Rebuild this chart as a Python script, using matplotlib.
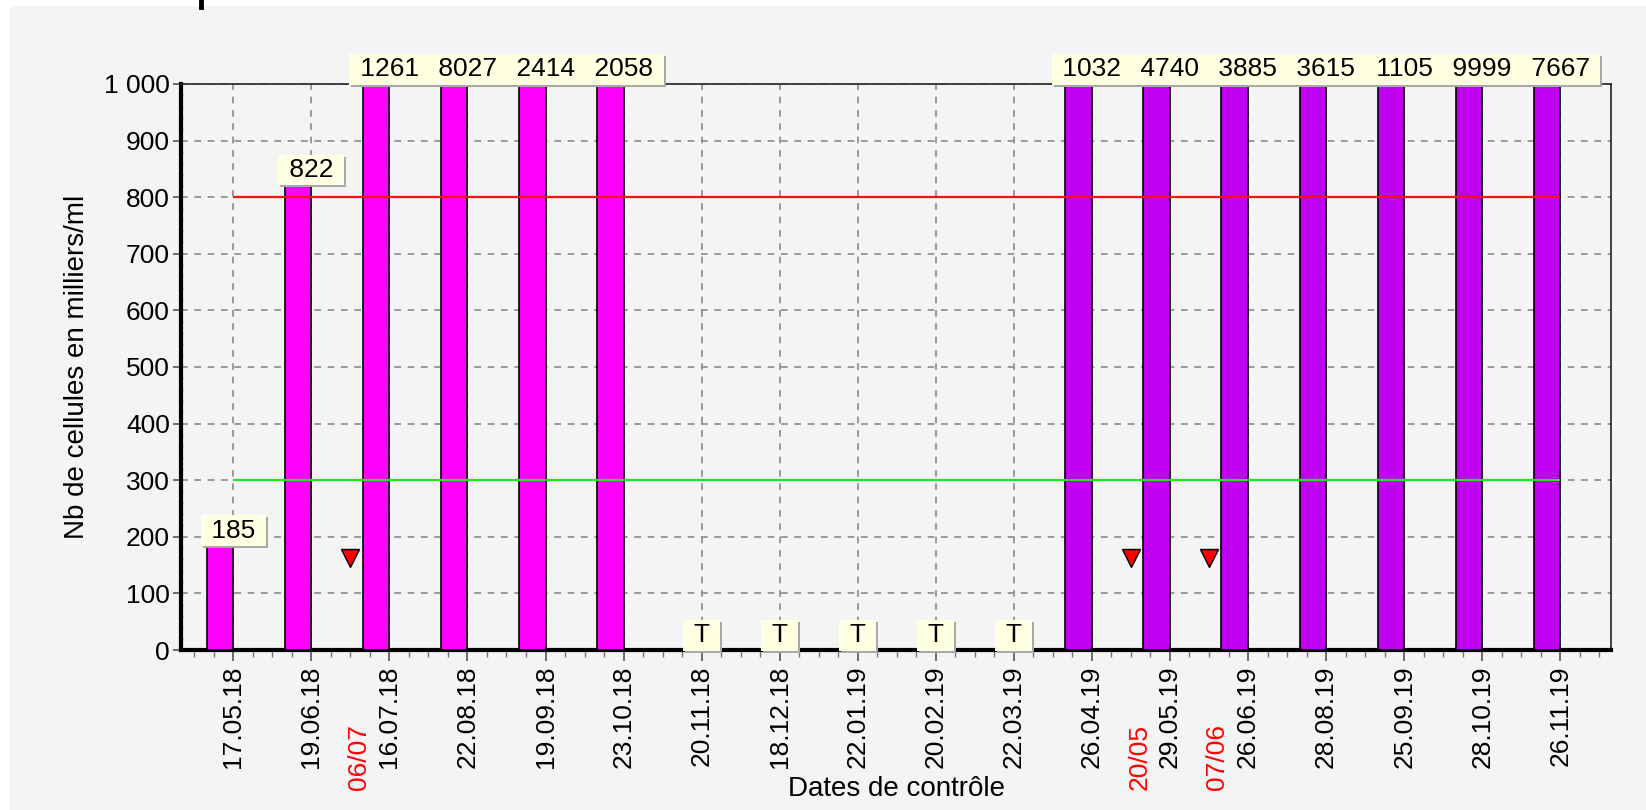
import numpy as np
import matplotlib
matplotlib.use('Agg')
import matplotlib.pyplot as plt
from matplotlib.ticker import MultipleLocator, FuncFormatter
from matplotlib.patches import Rectangle
from matplotlib.lines import Line2D
from matplotlib.transforms import offset_copy

# Data (values above 1000 are clipped at the top of the axis)
dates = ['17.05.18', '19.06.18', '16.07.18', '22.08.18', '19.09.18', '23.10.18',
         '20.11.18', '18.12.18', '22.01.19', '20.02.19', '22.03.19', '26.04.19',
         '29.05.19', '26.06.19', '28.08.19', '25.09.19', '28.10.19', '26.11.19']
counts = [185, 822, 1261, 8027, 2414, 2058, 0, 0, 0, 0, 0,
          1032, 4740, 3885, 3615, 1105, 9999, 7667]
labels = ['185', '822', '1261', '8027', '2414', '2058', 'T', 'T', 'T', 'T', 'T',
          '1032', '4740', '3885', '3615', '1105', '9999', '7667']
season = [0] * 11 + [1] * 7          # 0 = first lactation colour, 1 = second
threshold_high = 800
threshold_low = 300

# events (red triangles) placed between two controls
event_pos = [1.5, 11.5, 12.5]
event_val = [163, 163, 163]
event_lbl = ['06/07', '20/05', '07/06']

ymax = 1000
bar_colors = ['#ff00ff', '#c000f0']
box_color = '#ffffe1'
fs = 19
fs_lab = 20

plt.rcParams['font.family'] = ['Liberation Sans', 'DejaVu Sans']

fig = plt.figure(figsize=(16.46, 8.10), dpi=100, facecolor='white')
fig.add_artist(Rectangle((10 / 1646, 0), 1, 1 - 6 / 810, transform=fig.transFigure,
                         facecolor='#f4f4f4', edgecolor='none', zorder=-10))
# stroke of the cropped title at the very top
fig.add_artist(Line2D([200.5 / 1646, 200.5 / 1646], [1, 1 - 7 / 810], transform=fig.transFigure,
                      color='black', linewidth=3.5))

ax = fig.add_axes([181 / 1646, 1 - 650 / 810, (1611 - 181) / 1646, (650 - 84) / 810])
ax.set_facecolor('#f4f4f4')

x = np.arange(len(dates))
w = 0.34
heights = [min(c, ymax) for c in counts]
colors = [bar_colors[s] for s in season]
ax.bar(x - w, heights, width=w, align='edge', color=colors,
       edgecolor='black', linewidth=1.2, zorder=3)

ax.hlines(threshold_high, x[0], x[-1], color='#ff1010', linewidth=1.6, zorder=4)
ax.hlines(threshold_low, x[0], x[-1], color='#22e622', linewidth=1.6, zorder=4)

ax.plot(event_pos, event_val, linestyle='none', marker='v', markersize=13,
        markerfacecolor='red', markeredgecolor='black', markeredgewidth=1, zorder=5)

# value boxes
shadow_tr = offset_copy(ax.transData, fig=fig, x=2, y=-2, units='dots')
for i, (c, lab) in enumerate(zip(counts, labels)):
    yv = min(c, ymax)
    txt = ' ' + lab + ' '
    for tr, fc, tc, z in [(shadow_tr, '#a8a8a8', 'none', 6), (ax.transData, box_color, 'black', 7)]:
        ax.annotate(txt, xy=(i, yv), xycoords=tr, xytext=(0, 2), textcoords='offset points',
                    ha='center', va='bottom', fontsize=fs, color=tc, zorder=z,
                    annotation_clip=False,
                    bbox=dict(boxstyle='square,pad=0.13', facecolor=fc, edgecolor='none'))

# red event dates under the axis
for p, lbl in zip(event_pos, event_lbl):
    ax.annotate(lbl, xy=(p, 0), xycoords=('data', 'axes fraction'), xytext=(6, -53),
                textcoords='offset points', rotation=90, ha='center', va='top',
                fontsize=fs, color='red', annotation_clip=False)

ax.set_xlim(-0.67, 17.65)
ax.set_ylim(0, ymax)
ax.set_xticks(x)
ax.set_xticklabels(dates, rotation=90, fontsize=fs)
ax.xaxis.set_minor_locator(MultipleLocator(0.25))
ax.yaxis.set_major_locator(MultipleLocator(100))
ax.yaxis.set_minor_locator(MultipleLocator(20))
ax.yaxis.set_major_formatter(FuncFormatter(lambda v, _: f'{int(v):,}'.replace(',', ' ')))
ax.tick_params(axis='y', which='major', labelsize=fs, length=6, width=1.2, color='#555555', pad=2)
ax.tick_params(axis='y', which='minor', length=3, width=1, direction='inout', color='#777777')
ax.tick_params(axis='x', which='major', length=8, width=1.2, color='#555555', pad=3)
ax.tick_params(axis='x', which='minor', length=5, width=1, color='#777777')

ax.grid(True, which='major', color='#8a8a8a', linestyle=(0, (4, 4)), linewidth=1.2, zorder=1)
ax.set_axisbelow(True)

for side in ['left', 'bottom']:
    ax.spines[side].set_linewidth(3)
    ax.spines[side].set_color('black')
for side in ['top', 'right']:
    ax.spines[side].set_linewidth(1.2)
    ax.spines[side].set_color('#222222')

ax.set_ylabel('Nb de cellules en milliers/ml', fontsize=fs_lab, labelpad=10)
ax.set_xlabel('Dates de contrôle', fontsize=fs_lab, labelpad=6)

fig.savefig('out.png', dpi=100, facecolor=fig.get_facecolor())
